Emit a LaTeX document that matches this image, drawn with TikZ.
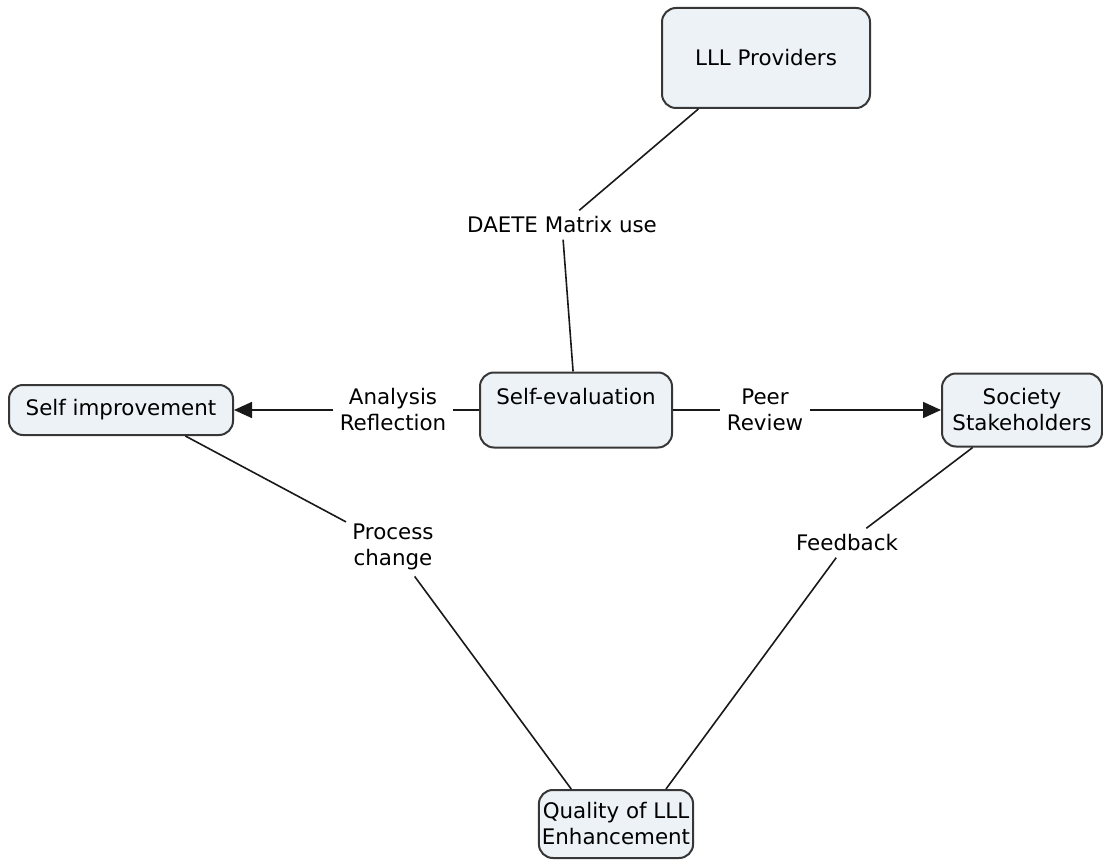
\documentclass[tikz,border=0pt]{standalone}
\usepackage{fontspec}
\setmainfont{DejaVu Sans}
\usepackage{tikz}
\usetikzlibrary{arrows.meta, positioning}
\definecolor{boxfill}{RGB}{236, 242, 246}
\definecolor{boxline}{RGB}{55, 55, 55}
\definecolor{linkline}{RGB}{25, 25, 25}

\begin{document}
\begin{tikzpicture}[
    x=0.5pt, y=-0.5pt,
    conceptbox/.style={
        rectangle, draw=boxline, fill=boxfill, line width=1pt, rounded corners=7pt,
        align=center, font=\fontsize{10.7}{13}\selectfont
    },
    linklabel/.style={
        inner sep=3pt, align=center, font=\fontsize{10.7}{13}\selectfont
    },
    link/.style={
        line width=0.8pt, color=linkline
    },
    linkarrow/.style={
        link, -{Triangle[length=9pt, width=8pt]}
    }
]
\useasboundingbox (0,0) rectangle (1103,861);

% Nodes
\node[conceptbox, minimum width=104pt, minimum height=50pt] (providers) at (766,58) {LLL Providers};
\node[conceptbox, minimum width=96pt, inner ysep=1pt, text height=15pt, text depth=20.5pt] (selfeval) at (576,410) {Self-evaluation};
\node[conceptbox, minimum width=112pt, minimum height=25pt] (selfimp) at (121,410) {Self improvement};
\node[conceptbox, minimum width=80pt, minimum height=36.5pt] (society) at (1022,410) {Society\\Stakeholders};
\node[conceptbox, minimum width=73.5pt, minimum height=34pt, inner xsep=1.5pt] (quality) at (616,824) {Quality of LLL\\Enhancement};

% Link labels
\node[linklabel] (daete) at (562,225) {DAETE Matrix use};
\node[linklabel] (analysis) at (393,410) {Analysis\\Reflection};
\node[linklabel] (peer) at (765,410) {Peer\\Review};
\node[linklabel] (process) at (393,547) {Process\\change};
\node[linklabel] (feedback) at (847,543) {Feedback};

% Connections
\draw[link] (providers.217) -- (daete);
\draw[link] (daete) -- (selfeval);
\draw[link] (selfeval) -- (analysis);
\draw[linkarrow] (analysis) -- (selfimp);
\draw[link] (selfeval) -- (peer);
\draw[linkarrow] (peer) -- (society);
\draw[link] (selfimp.-22) -- (process);
\draw[link] (process) -- (quality.142);
\draw[link] (society) -- (feedback);
\draw[link] (feedback) -- (quality.35);

\end{tikzpicture}
\end{document}
